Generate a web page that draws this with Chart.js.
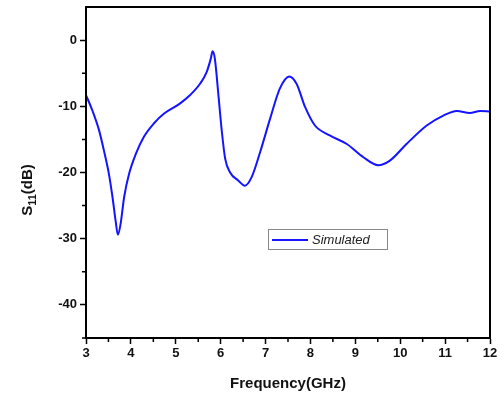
<!DOCTYPE html>
<html lang="en">
  <head>
    <meta charset="UTF-8" />
    <title>S11 Simulated</title>
    <script src="https://cdn.jsdelivr.net/npm/chart.js"></script>
    <style>
      body {
        margin: 0;
        padding: 0;
        background: #fff;
      }
      #wrap {
        width: 504px;
        height: 399px;
      }
    </style>
  </head>
  <body>
    <div id="wrap"><canvas id="s11Chart" width="504" height="399"></canvas></div>

    <script>
      // frequency (GHz) and S11 (dB)
      const freq = [3.0, 3.14, 3.29, 3.4, 3.51, 3.59, 3.66, 3.71, 3.77, 3.85, 3.96, 4.11, 4.29, 4.51, 4.74, 5.09, 5.32, 5.54, 5.69, 5.78, 5.82, 5.87, 5.95, 6.02, 6.1, 6.21, 6.39, 6.54, 6.69, 6.88, 7.1, 7.32, 7.53, 7.69, 7.88, 8.1, 8.43, 8.81, 9.18, 9.51, 9.77, 10.14, 10.59, 10.96, 11.26, 11.55, 11.78, 12.0];
      const s11 = [-8.3, -10.6, -13.6, -16.7, -20.2, -23.7, -27.3, -29.4, -27.8, -23.7, -20.2, -17.2, -14.6, -12.6, -11.1, -9.6, -8.3, -6.6, -4.8, -2.8, -1.7, -2.8, -8.3, -13.4, -17.9, -20.0, -21.2, -22.0, -20.7, -16.9, -11.9, -7.3, -5.5, -6.6, -10.1, -12.9, -14.4, -15.7, -17.7, -18.9, -18.2, -15.7, -12.9, -11.4, -10.7, -11.0, -10.7, -10.8];
      const xTicks = [3, 4, 5, 6, 7, 8, 9, 10, 11, 12];
      const yTicks = [-40, -30, -20, -10, 0];
      const seriesName = "Simulated";

      const points = freq.map((f, i) => ({ x: f, y: s11[i] }));
      const tickFont = { family: "Liberation Sans, Arial", size: 13, weight: "bold" };

      // frame, minor ticks, axis titles and the boxed legend
      const extras = {
        id: "extras",
        afterDraw(chart) {
          const ctx = chart.ctx;
          const a = chart.chartArea;
          const xs = chart.scales.x;
          const ys = chart.scales.y;
          ctx.save();
          ctx.strokeStyle = "#000";
          ctx.lineWidth = 2;
          ctx.strokeRect(a.left, a.top, a.right - a.left, a.bottom - a.top);

          ctx.lineWidth = 1.5;
          ctx.beginPath();
          for (let v = 3.5; v < 12; v += 1) {
            const px = xs.getPixelForValue(v);
            ctx.moveTo(px, a.bottom);
            ctx.lineTo(px, a.bottom + 4);
          }
          for (let v = -45; v < 5; v += 10) {
            const py = ys.getPixelForValue(v);
            ctx.moveTo(a.left, py);
            ctx.lineTo(a.left - 4, py);
          }
          ctx.stroke();

          ctx.fillStyle = "#111";
          ctx.font = "bold 15px Liberation Sans, Arial";
          ctx.textAlign = "center";
          ctx.textBaseline = "middle";
          ctx.fillText("Frequency(GHz)", (a.left + a.right) / 2, 384);

          ctx.save();
          ctx.translate(28, 190);
          ctx.rotate(-Math.PI / 2);
          ctx.textAlign = "left";
          const w1 = ctx.measureText("S").width;
          ctx.font = "bold 11px Liberation Sans, Arial";
          const w2 = ctx.measureText("11").width;
          ctx.font = "bold 15px Liberation Sans, Arial";
          const w3 = ctx.measureText("(dB)").width;
          let x0 = -(w1 + w2 + w3) / 2;
          ctx.fillText("S", x0, 0);
          ctx.font = "bold 11px Liberation Sans, Arial";
          ctx.fillText("11", x0 + w1, 5);
          ctx.font = "bold 15px Liberation Sans, Arial";
          ctx.fillText("(dB)", x0 + w1 + w2, 0);
          ctx.restore();

          ctx.strokeStyle = "#888";
          ctx.lineWidth = 1;
          ctx.strokeRect(268.5, 229.5, 119, 20);
          ctx.strokeStyle = "#1414ff";
          ctx.lineWidth = 2;
          ctx.beginPath();
          ctx.moveTo(272, 240);
          ctx.lineTo(308, 240);
          ctx.stroke();
          ctx.fillStyle = "#222";
          ctx.font = "italic 13px Liberation Sans, Arial";
          ctx.textAlign = "left";
          ctx.fillText(seriesName, 312, 240);
          ctx.restore();
        },
      };

      new Chart(document.getElementById("s11Chart").getContext("2d"), {
        type: "scatter",
        data: {
          datasets: [
            {
              label: seriesName,
              data: points,
              showLine: true,
              borderColor: "#1414ff",
              borderWidth: 2,
              pointRadius: 0,
              tension: 0.4,
              cubicInterpolationMode: "monotone",
            },
          ],
        },
        options: {
          responsive: false,
          animation: false,
          layout: { padding: { top: 7, right: 14, left: 0, bottom: 0 } },
          plugins: {
            legend: { display: false },
            tooltip: { enabled: false },
          },
          scales: {
            x: {
              type: "linear",
              min: 3,
              max: 12,
              afterFit: (s) => { s.height = 61; },
              afterBuildTicks: (s) => { s.ticks = xTicks.map((v) => ({ value: v })); },
              grid: { drawOnChartArea: false, tickLength: 6, tickColor: "#000", tickWidth: 1.5 },
              border: { color: "#000", width: 2 },
              ticks: { color: "#111", font: tickFont, padding: 2, maxRotation: 0 },
            },
            y: {
              min: -45,
              max: 5,
              afterFit: (s) => {
                s.width = 86;
                s.paddingTop = 0;
                s.paddingBottom = 0;
              },
              afterBuildTicks: (s) => { s.ticks = yTicks.map((v) => ({ value: v })); },
              grid: { drawOnChartArea: false, tickLength: 6, tickColor: "#000", tickWidth: 1.5 },
              border: { color: "#000", width: 2 },
              ticks: { color: "#111", font: tickFont, padding: 3 },
            },
          },
        },
        plugins: [extras],
      });
    </script>
  </body>
</html>
